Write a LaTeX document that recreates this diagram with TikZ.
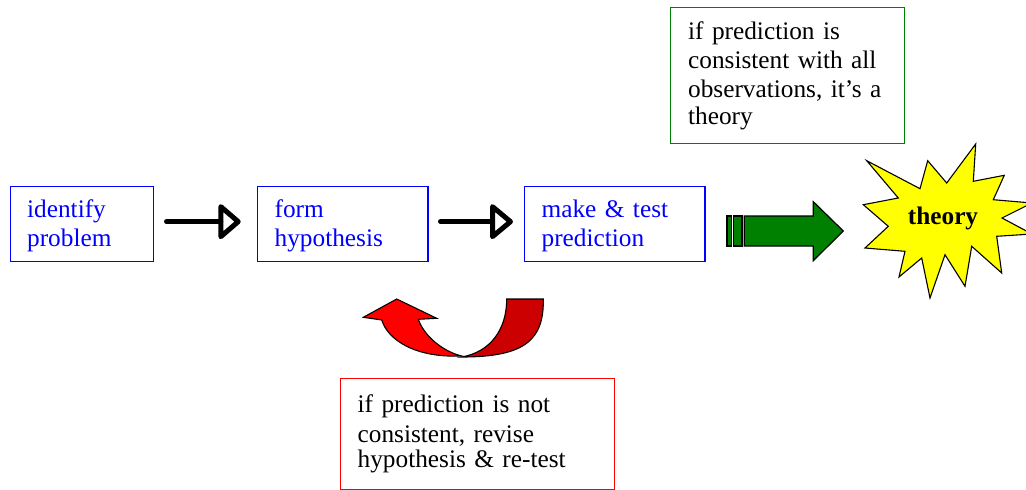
\documentclass[tikz,border=0pt]{standalone}
\usepackage{fontspec}
\setmainfont{Liberation Serif}
\usetikzlibrary{calc}
\definecolor{boxblue}{RGB}{0,0,255}
\definecolor{dgreen}{RGB}{0,128,0}
\definecolor{dred}{RGB}{204,0,0}
\definecolor{bred}{RGB}{255,0,0}
\definecolor{starY}{RGB}{255,255,0}
\newcommand\mytopstrut{\rule{0pt}{23pt}}
\begin{document}
\begin{tikzpicture}[x=1pt,y=-1pt,
  stepbox/.style={draw=boxblue, line width=1.3pt, text=boxblue,
    font=\fontsize{25.3}{29}\selectfont, align=left, inner xsep=17pt, inner ysep=0pt,
    anchor=north west},
  notebox/.style={line width=1.3pt, text=black,
    font=\fontsize{25.3}{29}\selectfont, align=left, inner ysep=0pt,
    anchor=north west},
  flowline/.style={line width=5pt, line cap=round, line join=round},
  blockarrow/.style={fill=dgreen, draw=black, line width=1.2pt, line join=miter},
  outline/.style={draw=black, line width=1.1pt, line join=miter}]
\useasboundingbox (0,0) rectangle (1026,490);
\clip (0,0) rectangle (1026,490);
% process boxes
\node[stepbox, minimum width=143.4pt, minimum height=75pt, text width=109.4pt] (b1) at (9.5,185.5) {\mytopstrut identify\\problem};
\node[stepbox, minimum width=170.3pt, minimum height=75pt, text width=136.3pt] (b2) at (257,185.5) {\mytopstrut form\\hypothesis};
\node[stepbox, minimum width=180.3pt, minimum height=75pt, text width=146.3pt] (b3) at (524,185.5) {\mytopstrut make \& test\\prediction};
% arrows between boxes (open triangular heads)
\draw[flowline] ($(b1.east)+(12.3,-2)$) -- ($(b2.west)+(-36.2,-2)$);
\draw[flowline] ($(b2.west)+(-36.2,-17)$) -- ($(b2.west)+(-18.8,-2)$) -- ($(b2.west)+(-36.2,13)$) -- cycle;
\draw[flowline] ($(b2.east)+(11.9,-2)$) -- ($(b3.west)+(-31.5,-2)$);
\draw[flowline] ($(b3.west)+(-31.5,-17)$) -- ($(b3.west)+(-13.5,-2)$) -- ($(b3.west)+(-31.5,13)$) -- cycle;
% note boxes
\node[notebox, draw=dgreen, inner xsep=18pt, minimum width=234pt, minimum height=136pt, text width=198pt] (good) at (669.5,7)
  {if prediction is\\consistent with all\\observations, it’s a\\[-2pt]theory};
\node[notebox, draw=bred, inner xsep=17pt, minimum width=274pt, minimum height=111pt, text width=240pt] (bad) at (340,378)
  {if prediction is not\\[1pt]consistent, revise\\[-4pt]hypothesis \& re-test};
% green block arrow
\filldraw[blockarrow] (727,216) rectangle (731.7,246);
\filldraw[blockarrow] (733.3,216) rectangle (742,246);
\filldraw[blockarrow] (744.3,216) -- (813.3,216) -- (813.3,201.7) -- (843.3,231)
  -- (813.3,260.7) -- (813.3,246) -- (744.3,246) -- cycle;
% starburst
\filldraw[fill=starY, outline]
  (975.7,144) -- (973.3,181.3) -- (1004.3,175.3) -- (993.3,199.7) -- (1032,203)
  -- (1002,218) -- (1032,234) -- (996.7,236.3) -- (1001.7,273) -- (971.7,246.3)
  -- (965,286.3) -- (945,254.7) -- (930,298) -- (921.7,258) -- (899,277)
  -- (905,251.3) -- (865,248) -- (888.3,226.3) -- (863.3,204.7) -- (898.3,198)
  -- (866.7,160.7) -- (920,188.7) -- (927.7,160.7) -- (946.7,183) -- cycle;
\node[font=\fontsize{25.3}{29}\selectfont\bfseries] (theory) at (943,218) {theory};
% red U-turn arrow
\filldraw[fill=dred, outline]
  (506.7,299) -- (543.3,299) .. controls (544,340) and (525,357) .. (461.7,357)
  .. controls (490,352) and (506.7,330) .. (506.7,299) -- cycle;
\filldraw[fill=bred, outline]
  (381.7,320) -- (363.3,317.3) -- (396.7,299) -- (436.7,318.3) -- (418.3,319.3)
  .. controls (425,338) and (445,352) .. (461.7,356)
  .. controls (415,358) and (388,340) .. (381.7,320) -- cycle;
\end{tikzpicture}
\end{document}
